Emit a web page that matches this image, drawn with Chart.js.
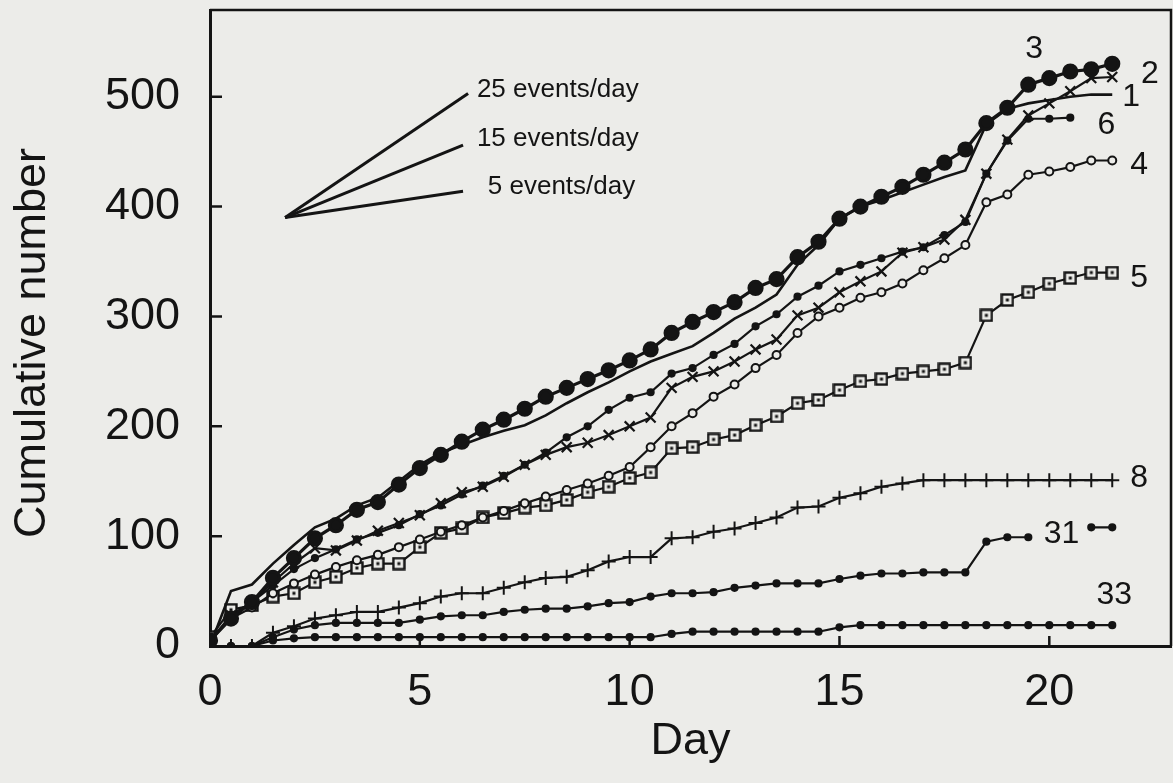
<!DOCTYPE html>
<html>
<head>
<meta charset="utf-8">
<script src="https://cdn.jsdelivr.net/npm/chart.js@4.4.1/dist/chart.umd.min.js"></script>
<style>
  html, body { margin: 0; padding: 0; background: #ecece9; }
  #wrap { width: 1173px; height: 783px; }
</style>
</head>
<body>
<div id="wrap"><canvas id="chart" width="1173" height="783"></canvas></div>
<script>
// half-day sampling, day 0 .. 21.5
const days = [0,0.5,1,1.5,2,2.5,3,3.5,4,4.5,5,5.5,6,6.5,7,7.5,8,8.5,9,9.5,10,10.5,
              11,11.5,12,12.5,13,13.5,14,14.5,15,15.5,16,16.5,17,17.5,18,18.5,19,19.5,20,20.5,21,21.5];

const s3  = [5,25,40,62,80,98,110,124,131,147,162,174,186,197,206,216,227,235,243,251,260,270,
             285,295,304,313,326,334,354,368,389,400,409,418,429,440,452,476,490,511,517,523,525,530];
const s1  = [0,50,56,75,92,108,116,128,135,150,165,176,183,190,196,201,210,221,231,240,250,259,
             266,273,285,298,308,320,347,365,389,400,406,413,420,427,433,475,489,494,497,500,502,502];
const s2  = [5,28,40,58,75,89,87,96,105,112,119,130,140,145,154,165,174,181,185,192,200,208,
             235,245,250,259,270,279,301,308,322,332,341,358,363,370,388,430,461,483,494,505,517,518];
const s6  = [3,28,40,55,70,80,88,97,103,110,120,128,138,146,155,165,176,190,200,215,226,231,
             248,253,265,275,291,302,318,328,341,347,353,359,363,374,386,430,460,480,480,481,null,null];
const s4  = [5,25,35,48,57,65,72,78,83,90,97,104,110,117,123,130,136,142,148,155,163,181,
             200,212,227,238,253,265,285,300,308,317,322,330,342,353,365,404,411,429,432,436,442,442];
const s5  = [8,33,37,45,48,58,63,71,75,75,90,103,107,117,121,126,128,133,140,145,153,158,
             180,181,188,192,201,209,221,224,233,241,243,248,250,252,258,301,315,322,330,335,340,340];
const s8  = [0,0,0,12,18,25,28,31,31,35,39,45,48,48,53,58,62,63,69,77,81,81,
             98,99,104,107,112,117,126,127,135,139,145,148,151,151,151,151,151,151,151,151,151,151];
const s31 = [0,0,0,8,15,19,21,21,21,21,24,27,28,28,31,33,34,34,36,39,40,45,
             48,48,49,53,55,57,57,57,61,64,66,66,67,67,67,95,99,99,null,null,108,108];
const s33 = [0,0,0,5,7,8,8,8,8,8,8,8,8,8,8,8,8,8,8,8,8,8,
             11,13,13,13,13,13,13,13,17,19,19,19,19,19,19,19,19,19,19,19,19,19];

const xTicks = [0,5,10,15,20];
const yTicks = [0,100,200,300,400,500];

// series labels: text, day, value
const seriesLabels = ['3','2','1','6','4','5','8','31','33'];
const labelX = [19.64,22.4,21.95,21.36,22.14,22.14,22.14,20.29,21.55];
const labelY = [543,521,500,474,438,335,153,102,46];

// rate reference lines
const rateLabels = ['25 events/day','15 events/day','5 events/day'];
const rateOrigin = [1.79, 390];
const rateEndX = [6.15,6.03,6.03];
const rateEndY = [503,456,414];
const rateTextX = [6.36,6.36,6.62];
const rateTextY = [506,462,418];

const INK = '#141414';
const BG = '#ecece9';
const FONT = '"Liberation Sans", Arial, Helvetica, sans-serif';

// open square with a dot in the middle
const sq = document.createElement('canvas');
sq.width = 14; sq.height = 14;
(function () {
  const c = sq.getContext('2d');
  c.fillStyle = BG; c.fillRect(1, 1, 12, 12);
  c.strokeStyle = INK; c.lineWidth = 2.4; c.strokeRect(1.5, 1.5, 11, 11);
  c.fillStyle = INK; c.fillRect(5.5, 5.5, 3, 3);
})();

const pts = vals => days.map((d, i) => ({x: d, y: vals[i]}));

const datasets = [
  {data: pts(s3), borderWidth: 3.2, pointStyle: 'circle', pointRadius: 6.5, pointBackgroundColor: INK},
  {data: pts(s1), borderWidth: 2.6, pointRadius: 0},
  {data: pts(s2), borderWidth: 2.2, pointStyle: 'crossRot', pointRadius: 7, pointBorderWidth: 2.2},
  {data: pts(s6), borderWidth: 2.2, pointStyle: 'circle', pointRadius: 3, pointBackgroundColor: INK},
  {data: pts(s4), borderWidth: 2.2, pointStyle: 'circle', pointRadius: 4, pointBorderWidth: 2, pointBackgroundColor: BG},
  {data: pts(s5), borderWidth: 2.2, pointStyle: sq},
  {data: pts(s8), borderWidth: 2.2, pointStyle: 'cross', pointRadius: 7, pointBorderWidth: 2},
  {data: pts(s31), borderWidth: 2.2, pointStyle: 'circle', pointRadius: 3, pointBackgroundColor: INK},
  {data: pts(s33), borderWidth: 2.2, pointStyle: 'circle', pointRadius: 3, pointBackgroundColor: INK}
];
rateEndY.forEach((ey, i) => {
  datasets.push({data: [{x: rateOrigin[0], y: rateOrigin[1]}, {x: rateEndX[i], y: ey}],
                 borderWidth: 3, pointRadius: 0});
});
datasets.forEach(ds => {
  ds.borderColor = INK;
  ds.pointBorderColor = INK;
  ds.tension = 0;
  ds.spanGaps = false;
});

const decor = {
  id: 'decor',
  afterDraw(chart) {
    const {ctx, chartArea: a, scales: {x, y}} = chart;
    ctx.save();
    ctx.strokeStyle = INK;
    // top and right frame
    ctx.lineWidth = 2.5;
    ctx.beginPath();
    ctx.moveTo(a.left, a.top); ctx.lineTo(a.right, a.top); ctx.lineTo(a.right, a.bottom);
    ctx.stroke();
    // inward ticks
    ctx.beginPath();
    yTicks.slice(1).forEach(v => {
      const py = y.getPixelForValue(v);
      ctx.moveTo(a.left, py); ctx.lineTo(a.left + 12, py);
    });
    xTicks.slice(1).forEach(v => {
      const px = x.getPixelForValue(v);
      ctx.moveTo(px, a.bottom); ctx.lineTo(px, a.bottom - 10);
    });
    ctx.stroke();

    ctx.fillStyle = INK;
    // series labels
    ctx.font = '32px ' + FONT;
    ctx.textAlign = 'center';
    ctx.textBaseline = 'middle';
    seriesLabels.forEach((t, i) => {
      ctx.fillText(t, x.getPixelForValue(labelX[i]), y.getPixelForValue(labelY[i]));
    });
    // rate labels
    ctx.font = '26px ' + FONT;
    ctx.textAlign = 'left';
    rateLabels.forEach((t, i) => {
      ctx.fillText(t, x.getPixelForValue(rateTextX[i]), y.getPixelForValue(rateTextY[i]));
    });
    // y title
    ctx.font = '45px ' + FONT;
    ctx.textAlign = 'center';
    ctx.translate(33, 343);
    ctx.rotate(-Math.PI / 2);
    ctx.fillText('Cumulative number', 0, 0);
    ctx.restore();
  }
};

new Chart(document.getElementById('chart'), {
  type: 'line',
  data: {datasets: datasets},
  options: {
    responsive: false,
    animation: false,
    layout: {autoPadding: false, padding: {top: 10, right: 2, left: 0, bottom: 0}},
    plugins: {legend: {display: false}, tooltip: {enabled: false}},
    scales: {
      x: {
        type: 'linear', min: 0, max: 22.9,
        afterFit: s => { s.height = 137; s.paddingLeft = 0; s.paddingRight = 0; },
        afterBuildTicks: s => { s.ticks = xTicks.map(v => ({value: v})); },
        grid: {display: false, drawTicks: false},
        border: {display: true, width: 3, color: INK},
        ticks: {padding: 20, color: INK, font: {family: FONT, size: 45}},
        title: {display: true, text: 'Day', color: INK, font: {family: FONT, size: 45},
                padding: {top: 0, bottom: 14}}
      },
      y: {
        type: 'linear', min: 0, max: 579,
        afterFit: s => { s.width = 210; s.paddingTop = 0; s.paddingBottom = 0; },
        afterBuildTicks: s => { s.ticks = yTicks.map(v => ({value: v})); },
        grid: {display: false, drawTicks: false},
        border: {display: true, width: 3, color: INK},
        ticks: {padding: 30, color: INK, font: {family: FONT, size: 45}}
      }
    }
  },
  plugins: [decor]
});
</script>
</body>
</html>
